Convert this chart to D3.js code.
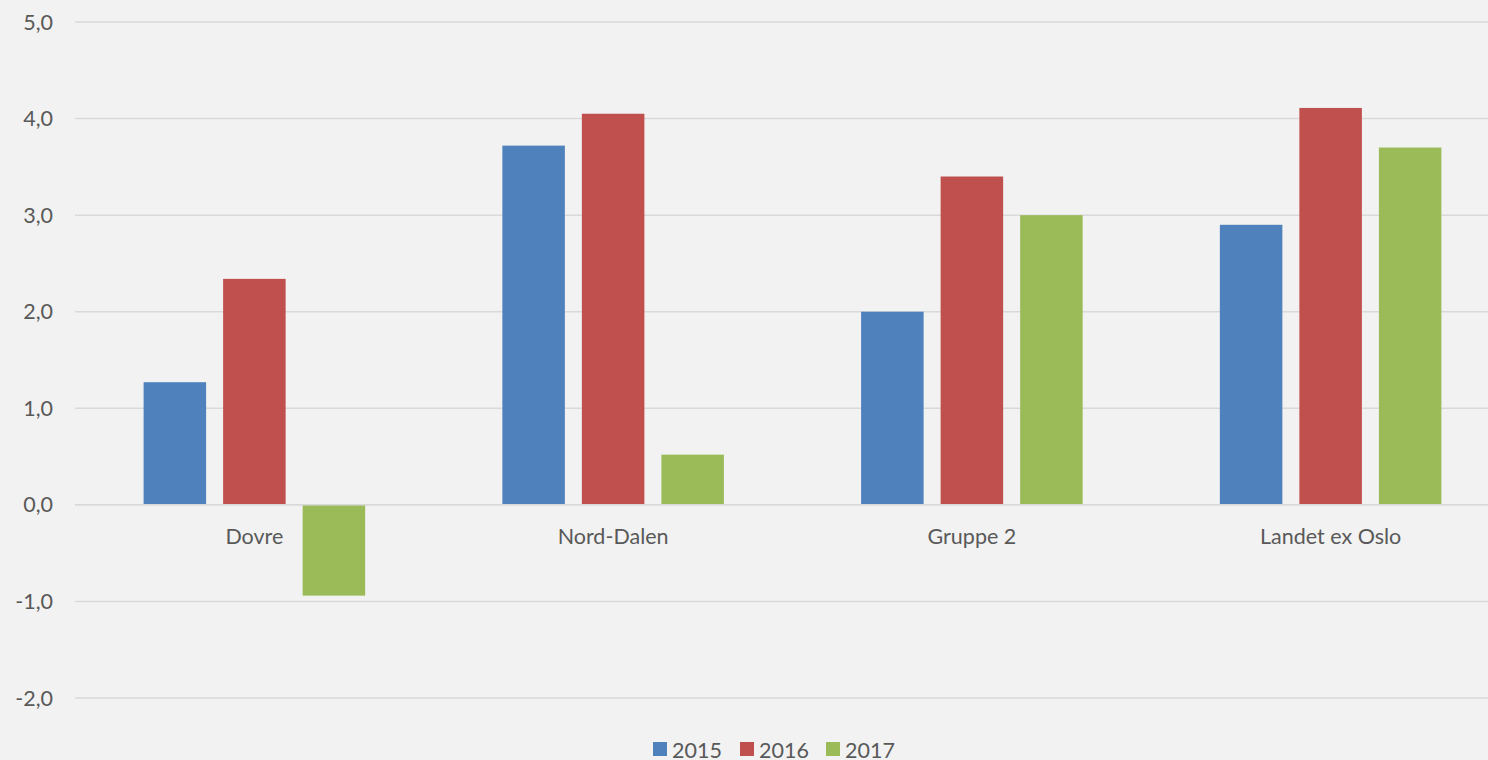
<!DOCTYPE html>
<html>
<head>
<meta charset="utf-8">
<script src="https://cdn.jsdelivr.net/npm/d3@7"></script>
<style>
  html, body { margin: 0; padding: 0; background: #f2f2f2; }
  svg { display: block; font-family: Lato, "Open Sans", sans-serif; }
</style>
</head>
<body>
<svg id="chart" width="1488" height="760"></svg>
<script>
(function() {
    'use strict';

    // Data
    const categories = ['Dovre', 'Nord-Dalen', 'Gruppe 2', 'Landet ex Oslo'];
    const seriesNames = ['2015', '2016', '2017'];
    const values2015 = [1.27, 3.72, 2.0, 2.9];
    const values2016 = [2.34, 4.05, 3.4, 4.11];
    const values2017 = [-0.94, 0.52, 3.0, 3.7];
    const yTicks = [-2, -1, 0, 1, 2, 3, 4, 5];
    const colors = ['#4f81bd', '#c0504d', '#9bbb59'];

    const seriesValues = [values2015, values2016, values2017];

    const width = 1488;
    const fontSize = 21.5;
    const svg = d3.select('#chart');

    // Scales
    const x0 = d3.scaleBand()
        .domain(categories)
        .range([75, 1510])
        .padding(0);

    const groupPad = 68.6;
    const x1 = d3.scaleBand()
        .domain(seriesNames)
        .range([groupPad, x0.bandwidth() - groupPad])
        .paddingInner(0.214)
        .paddingOuter(0);

    const y = d3.scaleLinear()
        .domain([-2, 5])
        .range([698, 22]);

    // Norwegian format, plain hyphen for negatives
    const fmt = d => d.toFixed(1).replace('.', ',');

    // Gridlines
    svg.append('g')
        .selectAll('line')
        .data(yTicks)
        .join('line')
        .attr('x1', 75)
        .attr('x2', width)
        .attr('y1', d => y(d))
        .attr('y2', d => y(d))
        .attr('stroke', '#d9d9d9')
        .attr('stroke-width', 1.5);

    // Y tick labels
    svg.append('g')
        .selectAll('text')
        .data(yTicks)
        .join('text')
        .attr('x', 53)
        .attr('y', d => y(d))
        .attr('dy', '0.35em')
        .attr('text-anchor', 'end')
        .attr('font-size', fontSize)
        .attr('fill', '#595959')
        .text(fmt);

    // Bars
    const groups = svg.append('g')
        .selectAll('g')
        .data(categories)
        .join('g')
        .attr('transform', d => `translate(${x0(d)},0)`);

    groups.selectAll('rect')
        .data((d, i) => seriesNames.map((s, j) => ({ s, v: seriesValues[j][i], c: colors[j] })))
        .join('rect')
        .attr('x', d => x1(d.s))
        .attr('width', x1.bandwidth())
        .attr('y', d => y(Math.max(0, d.v)))
        .attr('height', d => Math.abs(y(d.v) - y(0)))
        .attr('fill', d => d.c);

    // Zero line on top
    svg.append('line')
        .attr('x1', 75)
        .attr('x2', width)
        .attr('y1', y(0))
        .attr('y2', y(0))
        .attr('stroke', '#d9d9d9')
        .attr('stroke-width', 1.5);

    // Category labels
    svg.append('g')
        .selectAll('text')
        .data(categories)
        .join('text')
        .attr('x', d => x0(d) + x0.bandwidth() / 2)
        .attr('y', 536)
        .attr('dy', '0.35em')
        .attr('text-anchor', 'middle')
        .attr('font-size', fontSize)
        .attr('fill', '#595959')
        .text(d => d);

    // Legend
    const legendX = [653, 740, 826];
    const legend = svg.append('g')
        .selectAll('g')
        .data(seriesNames)
        .join('g')
        .attr('transform', (d, i) => `translate(${legendX[i]},742)`);

    legend.append('rect')
        .attr('width', 14)
        .attr('height', 14)
        .attr('fill', (d, i) => colors[i]);

    legend.append('text')
        .attr('x', 19)
        .attr('y', 8)
        .attr('dy', '0.35em')
        .attr('font-size', fontSize)
        .attr('fill', '#595959')
        .text(d => d);
})();
</script>
</body>
</html>
